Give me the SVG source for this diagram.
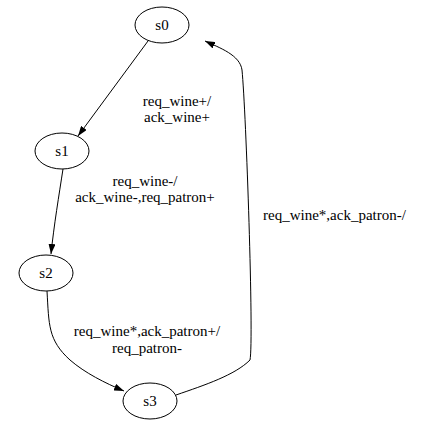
<svg xmlns="http://www.w3.org/2000/svg" width="430" height="424" viewBox="0 0 430 424" font-family="Liberation Serif, Times New Roman, serif" font-size="15">
  <style>
    .node ellipse { fill: #fff; stroke: #000; stroke-width: 1; }
    .node text { text-anchor: middle; }
    .lbl { text-anchor: middle; }
    .edge path { fill: none; stroke: #000; stroke-width: 1; }
  </style>
  <defs>
    <marker id="arrow" viewBox="0 0 10 7" refX="10" refY="3.5" markerWidth="10" markerHeight="7" markerUnits="userSpaceOnUse" orient="auto">
      <path d="M0,0 L10,3.5 L0,7 Z" fill="#000"/>
    </marker>
  </defs>
  <rect width="430" height="424" fill="#fff"/>

  <g id="connectors" class="edge">
    <!-- s0 -> s1 -->
    <path d="M148,41 L78,136" marker-end="url(#arrow)"/>
    <!-- s1 -> s2 -->
    <path d="M63,169 C59,195 54,225 51,254" marker-end="url(#arrow)"/>
    <!-- s2 -> s3 -->
    <path d="M47,291 C49,325 48,340 70,360 C85,373 105,383 124,391" marker-end="url(#arrow)"/>
    <!-- s3 -> s0 -->
    <path d="M176,395 C205,385 235,375 250,360 C254,340 246,110 242,70 C240,55 220,48 205,41" marker-end="url(#arrow)"/>
  </g>

  <g id="labels">
    <text class="lbl" x="177" y="106">req_wine+/</text>
    <text class="lbl" x="177" y="122">ack_wine+</text>
    <text class="lbl" x="145" y="186">req_wine-/</text>
    <text class="lbl" x="145" y="202">ack_wine-,req_patron+</text>
    <text x="263" y="220">req_wine*,ack_patron-/</text>
    <text class="lbl" x="147" y="336">req_wine*,ack_patron+/</text>
    <text class="lbl" x="147" y="353">req_patron-</text>
  </g>

  <g id="s0" class="node">
    <ellipse cx="162" cy="25" rx="27" ry="18"/>
    <text x="162" y="30">s0</text>
  </g>
  <g id="s1" class="node">
    <ellipse cx="62" cy="151" rx="27" ry="18"/>
    <text x="62" y="156">s1</text>
  </g>
  <g id="s2" class="node">
    <ellipse cx="46" cy="273" rx="27" ry="18"/>
    <text x="46" y="278">s2</text>
  </g>
  <g id="s3" class="node">
    <ellipse cx="150" cy="401" rx="27" ry="18"/>
    <text x="150" y="406">s3</text>
  </g>
</svg>
